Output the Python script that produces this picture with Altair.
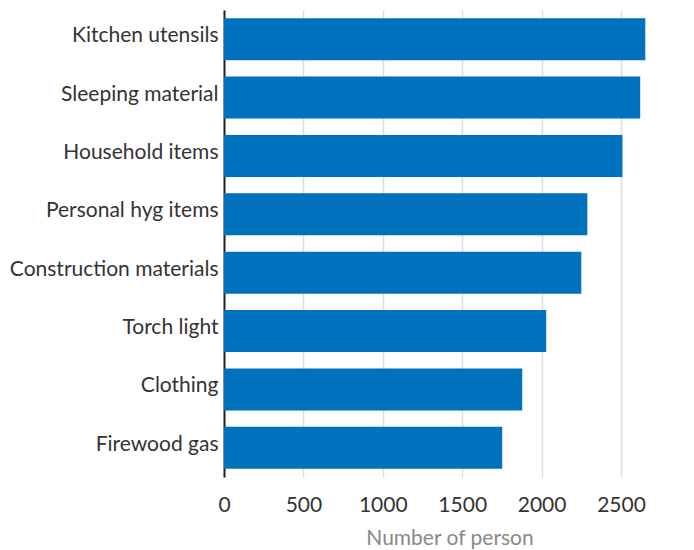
import altair as alt
import pandas as pd

categories = ["Kitchen utensils", "Sleeping material", "Household items", "Personal hyg items",
              "Construction materials", "Torch light", "Clothing", "Firewood gas"]
values = [2653, 2621, 2509, 2288, 2250, 2029, 1878, 1752]

df = pd.DataFrame({"item": categories, "count": values})

chart = alt.Chart(df).mark_bar(color="#0071bc").encode(
    x=alt.X("count:Q", title="Number of person",
            scale=alt.Scale(domain=[0, 2840], nice=False),
            axis=alt.Axis(values=[0, 500, 1000, 1500, 2000, 2500], format="d", grid=True,
                          domain=False, ticks=False, labelPadding=17, labelFontSize=21,
                          labelColor="#333333", labelFont="Lato", titleFont="Lato",
                          titleFontSize=21, titleFontWeight="normal", titleColor="#888888",
                          titlePadding=12, gridColor="#dddddd", gridWidth=1.5, labelFlush=False)),
    y=alt.Y("item:N", sort=categories, title=None,
            scale=alt.Scale(paddingInner=0.28, paddingOuter=0.14),
            axis=alt.Axis(domain=True, domainColor="#222222", domainWidth=2, ticks=False,
                          labelPadding=6, labelFontSize=21, labelColor="#333333",
                          labelFont="Lato", grid=False, labelLimit=400, labelOffset=-3)),
).properties(
    width=451, height=467,
    padding={"left": 216, "top": 2, "right": 11, "bottom": 90},
    autosize=alt.AutoSizeParams(type="none"),
).configure_view(stroke=None)

chart.save("out.html", embed_options={"renderer": "svg", "actions": False})
